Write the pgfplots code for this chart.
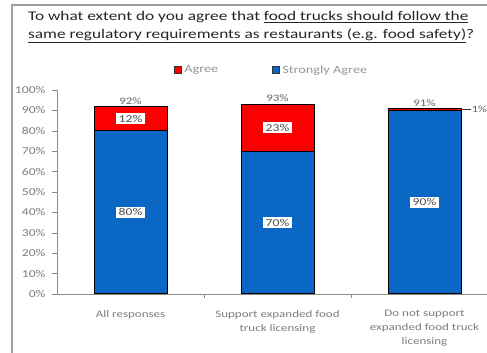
\documentclass[border=0pt]{standalone}
\usepackage{fontspec}
\setmainfont{Carlito}[FakeStretch=1.3]
\usepackage{pgfplots}
\pgfplotsset{compat=1.18}
\definecolor{sblue}{RGB}{10,104,196}
\definecolor{sred}{RGB}{250,0,0}
\definecolor{tgray}{RGB}{125,125,125}
\definecolor{agray}{RGB}{140,140,140}
\begin{document}
\begin{tikzpicture}[x=1pt,y=1pt]
\path[use as bounding box] (0,0) rectangle (487,353);
\clip (0,0) rectangle (487,353);
\fill[white] (0,0) rectangle (487,353);
\draw[gray!75, line width=2pt] (12,-10) -- (12,348) -- (500,348);
\node[anchor=base west, inner sep=0, font=\fontsize{13.3}{15}\selectfont, text=black!85] at (28,332) {To what extent do you agree that \underline{food trucks should follow the}};
\node[anchor=base west, inner sep=0, font=\fontsize{13.3}{15}\selectfont, text=black!85] at (28,314) {\underline{same regulatory requirements as restaurants (e.g. food safety)}?};
\begin{axis}[
  at={(57pt,59pt)}, anchor=south west, scale only axis,
  width=441pt, height=204pt,
  xmin=-0.5, xmax=2.5, ymin=0, ymax=100,
  ybar stacked, bar width=73pt,
  axis x line*=bottom, axis y line*=left,
  axis line style={agray},
  xtick={0,1,2},
  xticklabels={All responses, {Support expanded food\\truck licensing}, {Do not support\\expanded food truck\\licensing}},
  x tick label style={align=center, font=\fontsize{10}{14}\selectfont, text=tgray, yshift=-8pt},
  major x tick style={draw=none},
  extra x ticks={0.5,1.5},
  extra x tick labels={},
  extra x tick style={major tick length=4pt, tick align=outside, major x tick style={draw=agray}},
  ytick={0,10,...,100},
  yticklabel={\pgfmathprintnumber{\tick}\%},
  y tick label style={font=\fontsize{10.5}{11}\selectfont, text=tgray, xshift=-3pt},
  /pgf/number format/assume math mode=true,
  tick align=outside, major tick length=5pt,
  ytick style={agray},
  legend style={at={(0.487,1.098)}, anchor=center, draw=none, fill=none,
    legend columns=2, font=\fontsize{11}{12}\selectfont, text=tgray!80,
    /tikz/every even column/.append style={column sep=52pt}},
  legend image code/.code={\draw[#1, draw=black!80] (0pt,-3.5pt) rectangle (7pt,3.5pt);},
  reverse legend,
]
\addplot[fill=sblue, draw=black, line width=1pt] coordinates {(0,80) (1,70) (2,90)};
\addlegendentry{Strongly Agree}
\addplot[fill=sred, draw=black, line width=1pt] coordinates {(0,12) (1,23) (2,1)};
\addlegendentry{Agree}
\coordinate (l1) at (axis cs:0,40);
\coordinate (l2) at (axis cs:1,35);
\coordinate (l3) at (axis cs:2,45);
\coordinate (l4) at (axis cs:0,86);
\coordinate (l5) at (axis cs:1,81.5);
\coordinate (t1) at (axis cs:0,92);
\coordinate (t2) at (axis cs:1,93);
\coordinate (t3) at (axis cs:2,91);
\coordinate (s1) at (axis cs:2.25,90.5);
\coordinate (s2) at (axis cs:2.318,90.5);
\end{axis}
\tikzset{lab/.style={fill=white, inner xsep=2.5pt, inner ysep=2pt, font=\fontsize{10.5}{11}\selectfont, text=black!70}}
\node[lab] at (l1) {80\%};
\node[lab] at (l2) {70\%};
\node[lab] at (l3) {90\%};
\node[lab] at (l4) {12\%};
\node[lab] at (l5) {23\%};
\tikzset{tot/.style={anchor=south, inner sep=2pt, font=\fontsize{10}{11}\selectfont, text=black!60}}
\node[tot] at (t1) {92\%};
\node[tot] at (t2) {93\%};
\node[tot] at (t3) {91\%};
\draw[black!80, line width=0.6pt] (s1) -- (s2);
\node[anchor=west, inner sep=0.5pt, font=\fontsize{9.5}{10}\selectfont, text=black!60] at (s2) {1\%};
\end{tikzpicture}
\end{document}
